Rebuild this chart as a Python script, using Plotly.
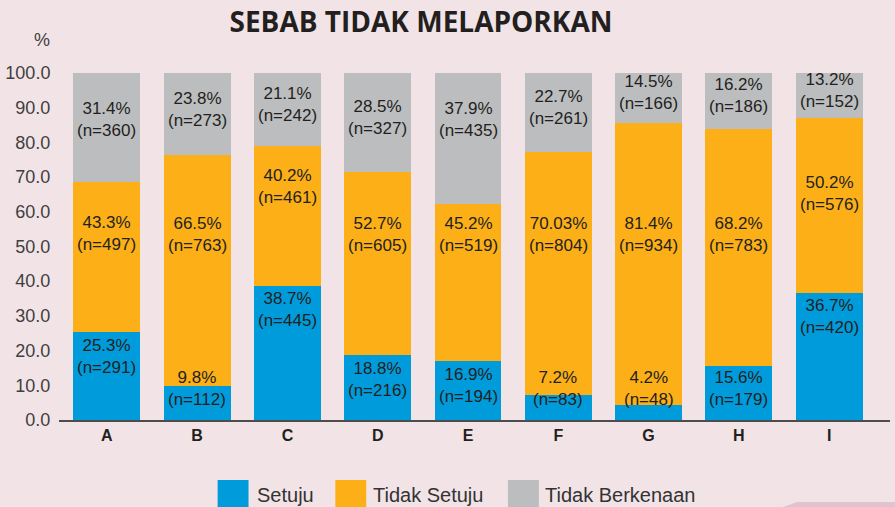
import plotly.graph_objects as go

categories = ["A", "B", "C", "D", "E", "F", "G", "H", "I"]
series_names = ["Setuju", "Tidak Setuju", "Tidak Berkenaan"]

setuju_pct = [25.3, 9.8, 38.7, 18.8, 16.9, 7.2, 4.2, 15.6, 36.7]
setuju_n = [291, 112, 445, 216, 194, 83, 48, 179, 420]

tidak_setuju_pct = [43.3, 66.5, 40.2, 52.7, 45.2, 70.03, 81.4, 68.2, 50.2]
tidak_setuju_n = [497, 763, 461, 605, 519, 804, 934, 783, 576]

tidak_berkenaan_pct = [31.4, 23.8, 21.1, 28.5, 37.9, 22.7, 14.5, 16.2, 13.2]
tidak_berkenaan_n = [360, 273, 242, 327, 435, 261, 166, 186, 152]

y_ticks = [0, 10, 20, 30, 40, 50, 60, 70, 80, 90, 100]

colors = ["#009bdb", "#fcaf17", "#bcbdbf"]
BG = "#f2e4e6"
TXT = "#231f20"
LABEL_FONT = "Liberation Sans, Arial, sans-serif"

W, H = 895, 507
ML, MR, MT, MB = 57, 5, 66, 87
PW = W - ML - MR
PH = H - MT - MB


def px_to_paper(px, py):
    return (px - ML) / PW, (H - MB - py) / PH


fig = go.Figure()
all_pct = [setuju_pct, tidak_setuju_pct, tidak_berkenaan_pct]
all_n = [setuju_n, tidak_setuju_n, tidak_berkenaan_n]
for name, pct, col in zip(series_names, all_pct, colors):
    fig.add_trace(go.Bar(
        x=categories, y=pct, name=name, marker_color=col,
        marker_line_width=0, width=0.74, showlegend=False,
        hoverinfo="x+y+name",
    ))

annotations = []
for i, cat in enumerate(categories):
    s, t, g = setuju_pct[i], tidak_setuju_pct[i], tidak_berkenaan_pct[i]
    ys = [max(s - 7, 9), max(53.5, s + 28.5), max(101.5 - g / 2, 86.7)]
    for k in range(3):
        v = all_pct[k][i]
        n = all_n[k][i]
        annotations.append(dict(
            x=cat, y=ys[k], xref="x", yref="y",
            text=f"{v:g}%<br>(n={n})", showarrow=False,
            font=dict(family=LABEL_FONT, size=17, color=TXT),
            xanchor="center", yanchor="middle",
        ))

# "%" axis unit label
ax, ay = px_to_paper(40, 40)
annotations.append(dict(x=ax, y=ay, xref="paper", yref="paper", text="%",
                        showarrow=False, xanchor="center", yanchor="middle",
                        font=dict(family=LABEL_FONT, size=18, color="#3f3f3f")))

# manual legend
shapes = []
legend_pos = [(216, 253), (334, 370), (507, 542)]
for (sx, tx), name, col in zip(legend_pos, series_names, colors):
    x0, y0 = px_to_paper(sx, 480)
    x1, y1 = px_to_paper(sx + 31, 510)
    shapes.append(dict(type="rect", xref="paper", yref="paper",
                       x0=x0, x1=x1, y0=y1, y1=y0,
                       fillcolor=col, line_width=0))
    lx, ly = px_to_paper(tx, 495)
    annotations.append(dict(x=lx, y=ly, xref="paper", yref="paper", text=name,
                            showarrow=False, xanchor="left", yanchor="middle",
                            font=dict(family=LABEL_FONT, size=20, color="#333333")))

# decorative band bottom right
p1 = px_to_paper(780, 508)
p2 = px_to_paper(797, 502)
p3 = px_to_paper(900, 502)
p4 = px_to_paper(900, 508)
shapes.append(dict(type="path", xref="paper", yref="paper",
                   path=f"M {p1[0]},{p1[1]} L {p2[0]},{p2[1]} L {p3[0]},{p3[1]} L {p4[0]},{p4[1]} Z",
                   fillcolor="#e0c3cc", line_width=0, layer="below"))

fig.update_layout(
    width=W, height=H,
    margin=dict(l=ML, r=MR, t=MT, b=MB),
    paper_bgcolor=BG, plot_bgcolor=BG,
    barmode="stack",
    title=dict(text="<b>SEBAB TIDAK MELAPORKAN</b>", x=421 / W, xanchor="center",
               y=1 - 22 / H, yanchor="middle",
               font=dict(family="Open Sans, Liberation Sans, sans-serif", size=28, color=TXT)),
    annotations=annotations,
    shapes=shapes,
    showlegend=False,
)
fig.update_xaxes(
    range=[-0.53, 8.674], showgrid=False, zeroline=False,
    showline=True, linecolor="#4d4d4d", linewidth=2,
    ticks="", tickfont=dict(family=LABEL_FONT, size=16, color=TXT),
    tickprefix="<b>", ticksuffix="</b>",
)
fig.update_yaxes(
    range=[0, 102], showgrid=False, zeroline=False, showline=False,
    tickvals=y_ticks, tickformat=".1f",
    ticks="outside", ticklen=4, tickcolor="rgba(0,0,0,0)",
    tickfont=dict(family=LABEL_FONT, size=18, color="#3f3f3f"),
)

fig.write_html(
    "out.html",
    config={"displayModeBar": False},
    post_script="document.body.style.margin='0';document.body.style.overflow='hidden';",
)
